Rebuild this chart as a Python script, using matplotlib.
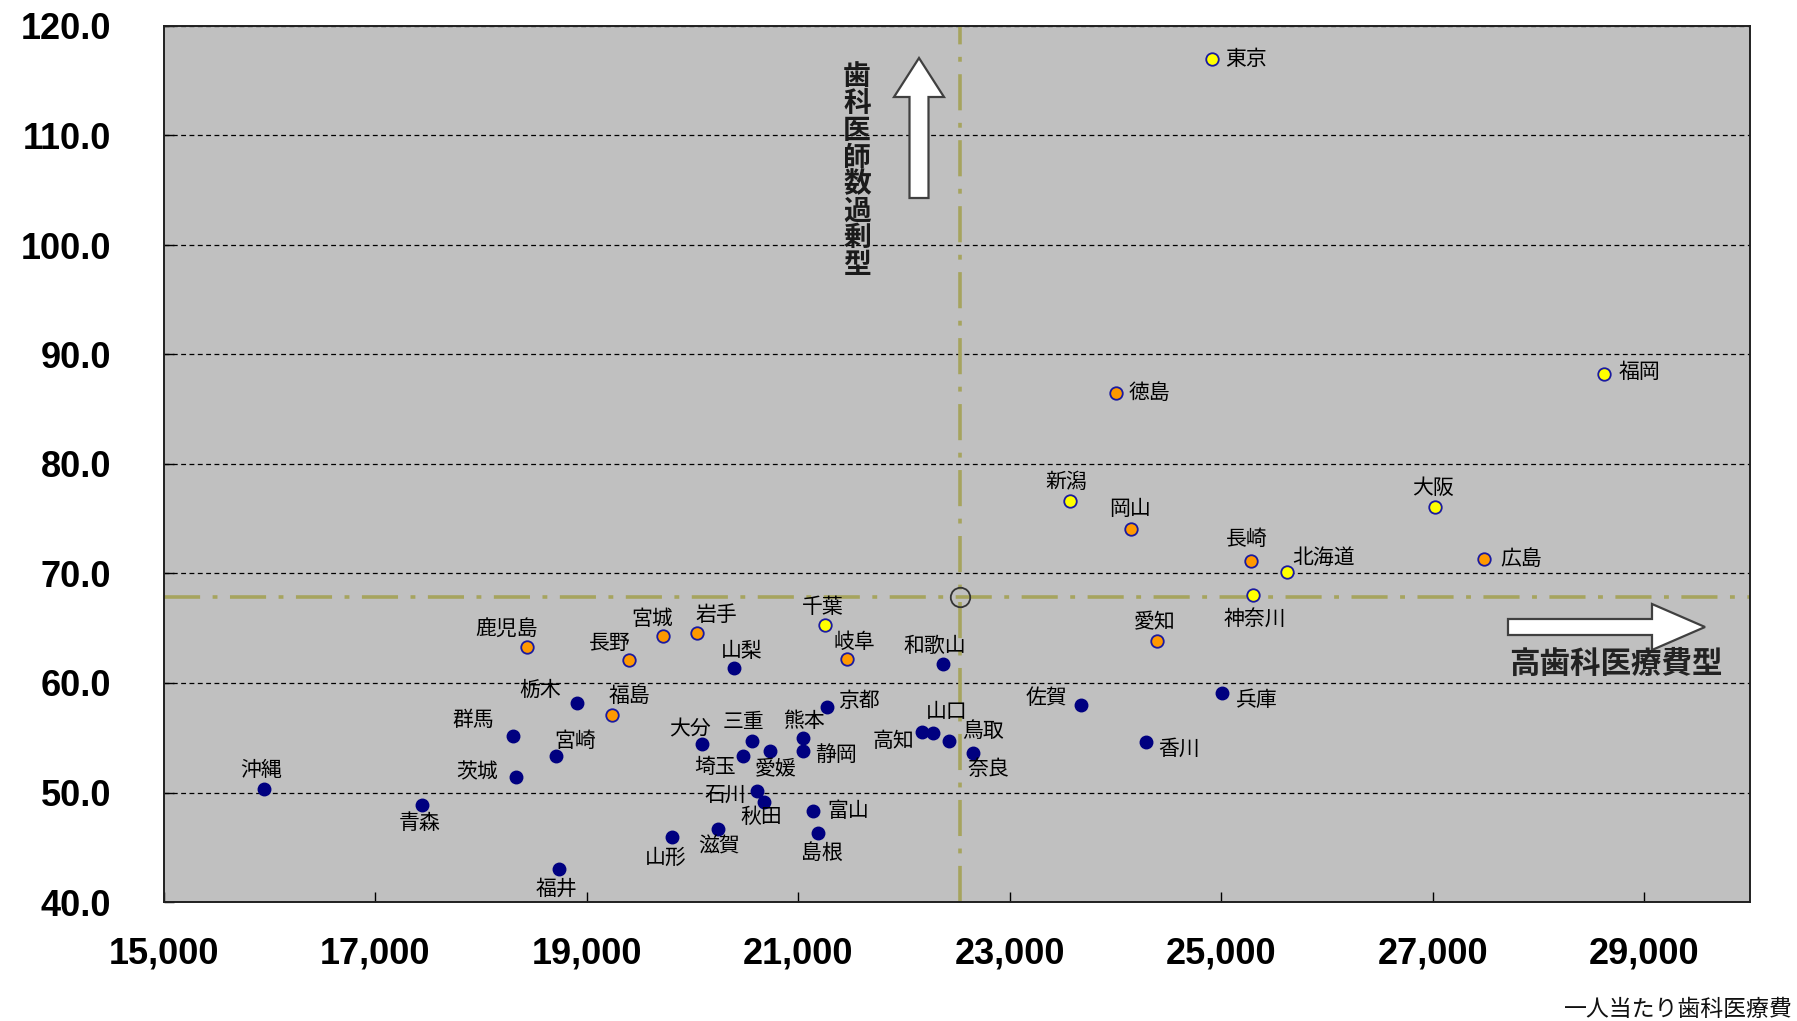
"""
Dental cost per person vs dentists per population, by prefecture
"""

import matplotlib
matplotlib.use("Agg")
import matplotlib.pyplot as plt
from matplotlib.patches import Polygon

# yellow group
yellow_names = ["東京", "福岡", "新潟", "大阪", "北海道", "神奈川", "千葉"]
yellow_x = [24910, 28620, 23570, 27020, 25620, 25300, 21250]
yellow_y = [117.0, 88.2, 76.6, 76.1, 70.1, 68.0, 65.3]

# orange group
orange_names = ["徳島", "岡山", "長崎", "広島", "愛知", "宮城", "岩手", "長野",
                "鹿児島", "岐阜", "福島"]
orange_x = [24000, 24150, 25280, 27480, 24390, 19720, 20040, 19400,
            18430, 21460, 19240]
orange_y = [86.5, 74.1, 71.1, 71.3, 63.8, 64.3, 64.6, 62.1,
            63.3, 62.2, 57.1]

# navy group
navy_names = ["山梨", "和歌山", "栃木", "京都", "佐賀", "兵庫", "群馬", "宮崎",
              "茨城", "沖縄", "青森", "福井", "大分", "三重", "埼玉", "愛媛",
              "熊本", "静岡", "石川", "秋田", "富山", "島根", "滋賀", "山形",
              "高知", "山口", "鳥取", "奈良", "香川"]
navy_x = [20390, 22370, 18910, 21270, 23670, 25010, 18300, 18710,
          18330, 15950, 17440, 18740, 20090, 20560, 20480, 20730,
          21040, 21040, 20610, 20670, 21140, 21190, 20240, 19800,
          22170, 22270, 22420, 22650, 24290]
navy_y = [61.4, 61.7, 58.2, 57.8, 58.0, 59.1, 55.2, 53.3,
          51.4, 50.3, 48.9, 43.0, 54.4, 54.7, 53.3, 53.8,
          55.0, 53.8, 50.1, 49.1, 48.3, 46.3, 46.7, 45.9,
          55.5, 55.4, 54.7, 53.6, 54.6]

# national average
avg_x = 22530
avg_y = 67.85

x_ticks = [15000, 17000, 19000, 21000, 23000, 25000, 27000, 29000]
y_ticks = [40, 50, 60, 70, 80, 90, 100, 110, 120]

# label placement, pixels from the point (dx, dy up)
label_offsets = {
    "東京": (34, 0), "福岡": (35, 2), "新潟": (-4, 19), "大阪": (-2, 19),
    "北海道": (37, 14), "神奈川": (2, -23), "千葉": (-2, 18),
    "徳島": (34, 0), "岡山": (-1, 20), "長崎": (-4, 22), "広島": (38, 0),
    "愛知": (-2, 19), "宮城": (-11, 17), "岩手": (19, 18), "長野": (-19, 17),
    "鹿児島": (-20, 18), "岐阜": (7, 17), "福島": (17, 19),
    "山梨": (8, 17), "和歌山": (-8, 18), "栃木": (-37, 13), "京都": (32, 6),
    "佐賀": (-34, 7), "兵庫": (34, -7), "群馬": (-40, 16), "宮崎": (19, 15),
    "茨城": (-39, 5), "沖縄": (-3, 19), "青森": (-2, -18), "福井": (-3, -20),
    "大分": (-12, 15), "三重": (-8, 19), "埼玉": (-28, -11), "愛媛": (6, -18),
    "熊本": (1, 17), "静岡": (33, -4), "石川": (-32, -3), "秋田": (-2, -15),
    "富山": (35, 0), "島根": (3, -20), "滋賀": (1, -18), "山形": (-6, -20),
    "高知": (-29, -9), "山口": (14, 21), "鳥取": (34, 10), "奈良": (15, -16),
    "香川": (33, -7),
}

W, H = 1797, 1021
AX_L, AX_R, AX_T, AX_B = 164, 1750, 26, 902


def px(x, y):
    # image pixel (from top-left) -> axes fraction
    return ((x - AX_L) / (AX_R - AX_L), (AX_B - y) / (AX_B - AX_T))


def main():
    plt.rcParams["font.family"] = ["Noto Sans CJK JP", "DejaVu Sans"]
    plt.rcParams["lines.scale_dashes"] = False

    fig = plt.figure(figsize=(W / 100, H / 100), dpi=100)
    ax = fig.add_axes([AX_L / W, 1 - AX_B / H, (AX_R - AX_L) / W, (AX_B - AX_T) / H])
    ax.set_facecolor("#C0C0C0")
    ax.set_xlim(15000, 30000)
    ax.set_ylim(40, 120)

    # grid
    ax.set_yticks(y_ticks)
    ax.set_xticks(x_ticks)
    ax.yaxis.grid(True, color="black", linestyle=(0, (3.5, 2.5)), linewidth=0.9)
    ax.set_axisbelow(True)

    # average lines
    ref = dict(color="#A6A45E", linewidth=2.6, linestyle=(0, (26, 9, 3.5, 9)), zorder=2)
    ax.axhline(avg_y, **ref)
    ax.axvline(avg_x, **ref)
    ax.plot([avg_x], [avg_y], "o", ms=14, mfc="none", mec="#333333", mew=1.3, zorder=3)

    # points
    ax.plot(navy_x, navy_y, "o", ms=9, mfc="#000080", mec="#000080", mew=1, zorder=4)
    ax.plot(orange_x, orange_y, "o", ms=9, mfc="#FF9900", mec="#1A1AA0", mew=1.3, zorder=4)
    ax.plot(yellow_x, yellow_y, "o", ms=9, mfc="#FFFF00", mec="#1A1AA0", mew=1.3, zorder=4)

    for names, xs, ys in [(yellow_names, yellow_x, yellow_y),
                          (orange_names, orange_x, orange_y),
                          (navy_names, navy_x, navy_y)]:
        for n, x, y in zip(names, xs, ys):
            dx, dy = label_offsets[n]
            ax.annotate(n, (x, y), xytext=(dx, dy), textcoords="offset pixels",
                        ha="center", va="center", fontsize=15, color="black",
                        zorder=5)

    # ticks and frame
    for s in ax.spines.values():
        s.set_color("#202020")
        s.set_linewidth(1.4)
    ax.tick_params(direction="in", length=7, width=1, color="black")
    ax.tick_params(axis="y", pad=38)
    ax.tick_params(axis="x", pad=25)
    ax.set_yticklabels(["%.1f" % v for v in y_ticks])
    ax.set_xticklabels(["{:,}".format(v) for v in x_ticks])
    for lab in ax.get_xticklabels() + ax.get_yticklabels():
        lab.set_fontfamily("Liberation Sans")
        lab.set_fontweight("bold")
        lab.set_fontsize(26)

    # arrows
    up = [(909.5, 198), (909.5, 97), (894, 97), (919, 58), (944, 97),
          (928.5, 97), (928.5, 198)]
    right = [(1508, 619), (1652, 619), (1652, 604), (1705, 627), (1652, 650),
             (1652, 635), (1508, 635)]
    for pts in (up, right):
        ax.add_patch(Polygon([px(*p) for p in pts], closed=True, transform=ax.transAxes,
                             facecolor="white", edgecolor="#404040", linewidth=1.6,
                             zorder=6))

    tx, ty = px(857, 171)
    ax.text(tx, ty, "\n".join("歯科医師数過剰型"), transform=ax.transAxes,
            ha="center", va="center", fontsize=20, linespacing=0.95,
            fontweight="bold", color="#1a1a1a", zorder=6)
    tx, ty = px(1616, 664)
    ax.text(tx, ty, "高歯科医療費型", transform=ax.transAxes, ha="center",
            va="center", fontsize=22, fontweight="bold", color="#222222", zorder=6)

    fig.text(1793 / W, 1 - 1009 / H, "一人当たり歯科医療費", ha="right",
             va="center", fontsize=16.5, color="#111111")

    fig.savefig("out.png", dpi=100)


if __name__ == "__main__":
    main()
